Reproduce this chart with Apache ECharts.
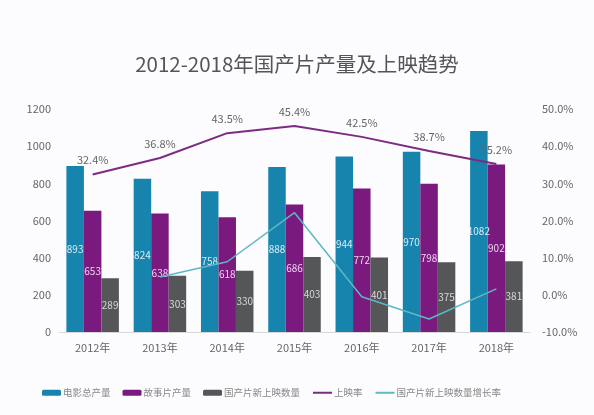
<!DOCTYPE html>
<html><head><meta charset="utf-8">
<script src="https://cdn.jsdelivr.net/npm/echarts@6/dist/echarts.min.js"></script>
<style>html,body{margin:0;padding:0;background:#fcfbfd}#c{width:594px;height:415px}</style>
</head><body><div id="c"></div>
<script>
const categories = ['2012年','2013年','2014年','2015年','2016年','2017年','2018年'];
const totalOutput = [893, 824, 758, 888, 944, 970, 1082];
const featureOutput = [653, 638, 618, 686, 772, 798, 902];
const newReleases = [289, 303, 330, 403, 401, 375, 381];
const releaseRate = [32.4, 36.8, 43.5, 45.4, 42.5, 38.7, 35.2];
const releaseGrowth = [null, 4.8, 8.9, 22.1, -0.5, -6.5, 1.6];
const seriesNames = ['电影总产量','故事片产量','国产片新上映数量','上映率','国产片新上映数量增长率'];

const font = '"Microsoft YaHei","Noto Sans CJK SC",sans-serif';
const chart = echarts.init(document.getElementById('c'));
function barLabel(color){
  return {show:true, position:'inside', color:color, fontSize:10, fontFamily:font};
}
chart.setOption({
  backgroundColor:'#fcfbfd',
  animation:false,
  title:{text:'2012-2018年国产片产量及上映趋势', left:'center', top:49,
    textStyle:{color:'#555', fontSize:20.5, fontWeight:'normal', fontFamily:font}},
  grid:{left:59, right:64, top:109, bottom:83},
  legend:{left:37, top:383, itemWidth:19, itemHeight:6, itemGap:12,
    textStyle:{color:'#888', fontSize:9.5, fontFamily:font, padding:[0,0,0,-3]},
    data:[
      {name:seriesNames[0]},
      {name:seriesNames[1]},
      {name:seriesNames[2]},
      {name:seriesNames[3], itemStyle:{opacity:0}},
      {name:seriesNames[4], itemStyle:{opacity:0}}
    ]},
  xAxis:{type:'category', data:categories,
    axisLine:{lineStyle:{color:'#d9d9d9'}}, axisTick:{show:false},
    axisLabel:{color:'#666', fontSize:11, fontFamily:font, margin:10}},
  yAxis:[
    {type:'value', min:0, max:1200, interval:200, splitLine:{show:false},
      axisLabel:{color:'#666', fontSize:11, fontFamily:font, margin:8, formatter:v=>String(v)}},
    {type:'value', min:-10, max:50, interval:10, splitLine:{show:false},
      axisLabel:{color:'#666', fontSize:11, fontFamily:font, margin:12,
        formatter:v=>v.toFixed(1)+'%'}}
  ],
  series:[
    {name:seriesNames[0], type:'bar', data:totalOutput, barWidth:17.5, barGap:'0%',
      itemStyle:{color:'#1784ae'}, label:barLabel('#d6eef8')},
    {name:seriesNames[1], type:'bar', data:featureOutput, barWidth:17.5, barGap:'0%',
      itemStyle:{color:'#7a1a7e'}, label:barLabel('#f0d0f0')},
    {name:seriesNames[2], type:'bar', data:newReleases, barWidth:17.5, barGap:'0%',
      itemStyle:{color:'#555658'}, label:barLabel('#d8d8d8')},
    {name:seriesNames[3], type:'line', yAxisIndex:1, data:releaseRate,
      symbol:'circle', symbolSize:0, showSymbol:true,
      lineStyle:{color:'#7c2b82', width:2}, itemStyle:{color:'#7c2b82'},
      label:{show:true, position:'top', distance:9, color:'#666', fontSize:11, fontFamily:font,
        formatter:p=>p.value.toFixed(1)+'%'}},
    {name:seriesNames[4], type:'line', yAxisIndex:1, data:releaseGrowth, symbol:'none',
      lineStyle:{color:'#5db8c6', width:1.5}, itemStyle:{color:'#5db8c6'}}
  ]
});
</script></body></html>
